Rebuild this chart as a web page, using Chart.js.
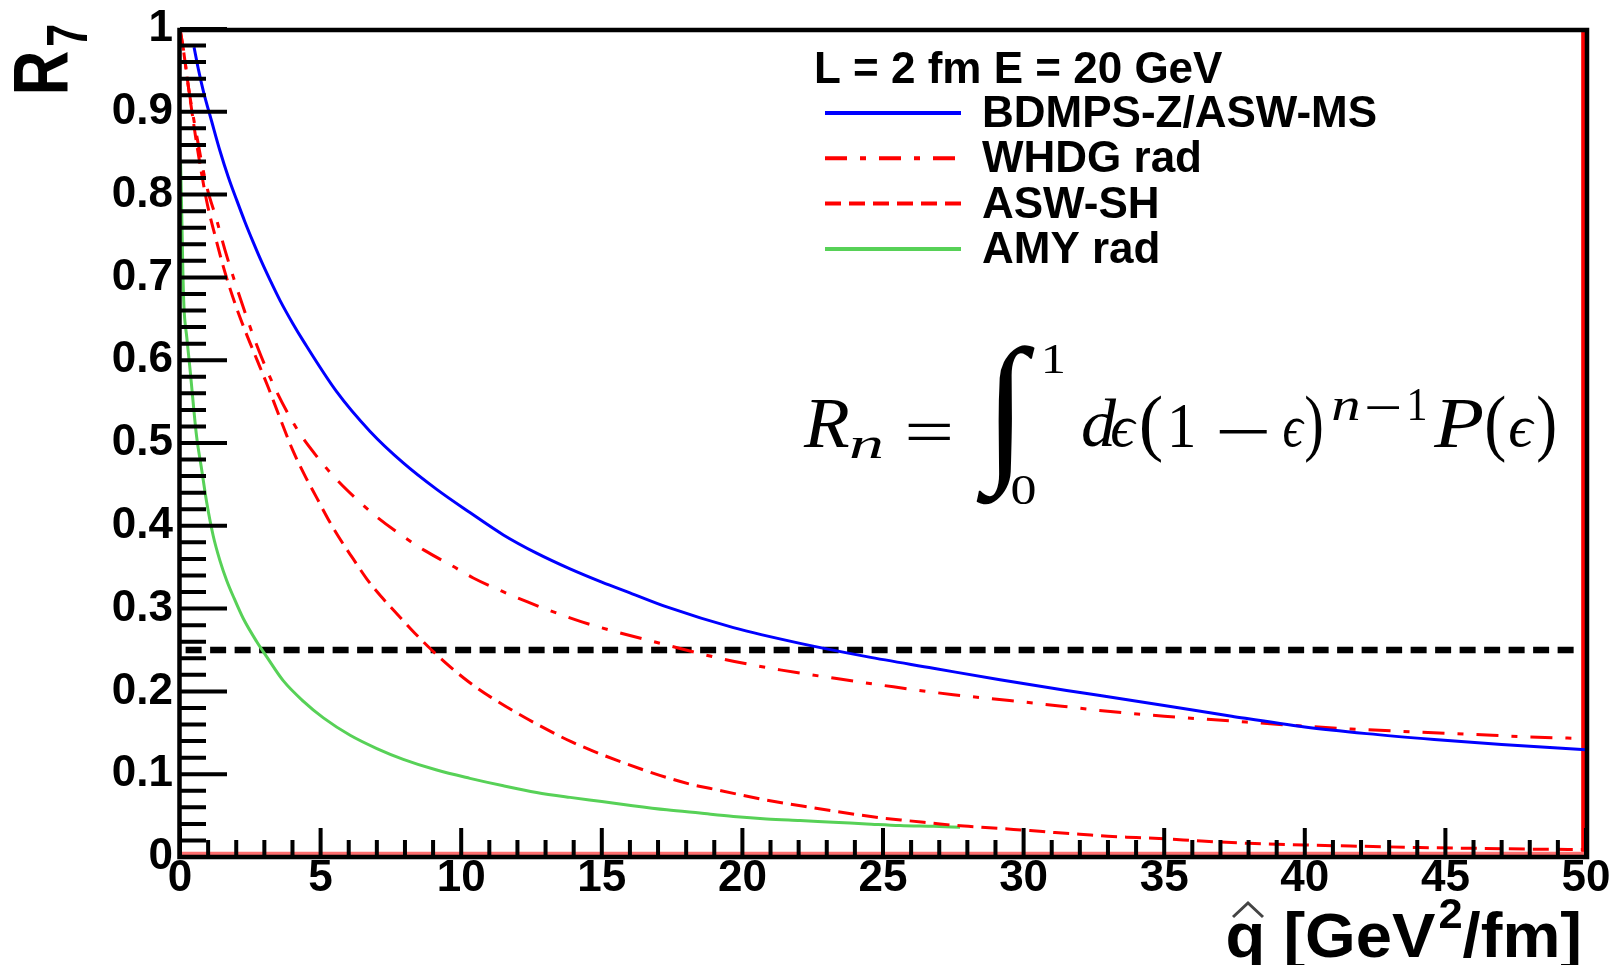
<!DOCTYPE html>
<html>
<head>
<meta charset="utf-8">
<script src="https://cdn.jsdelivr.net/npm/chart.js@4.4.1/dist/chart.umd.min.js"></script>
<style>
  html, body { margin: 0; padding: 0; background: #fff; }
  #wrap { width: 1619px; height: 965px; }
</style>
</head>
<body>
<div id="wrap"><canvas id="rChart" width="1619" height="965"></canvas></div>
<script>
// R_7 vs qhat, L = 2 fm, E = 20 GeV
const bdmpsQ = [0.5, 0.65, 0.83, 1.13, 1.42, 1.72, 2.02, 2.31, 2.61, 2.9, 3.2, 3.56, 4.0, 4.39, 5.57, 6.76, 7.94, 9.13, 10.31, 11.5, 12.68, 13.87, 15.0, 16.0, 17.31, 19.68, 22.05, 24.42, 26.79, 29.16, 31.53, 32.72, 35, 37.4, 40, 42.2, 44.6, 47, 50];
const bdmpsR = [0.978, 0.952, 0.925, 0.888, 0.853, 0.821, 0.793, 0.767, 0.742, 0.719, 0.697, 0.672, 0.645, 0.623, 0.562, 0.514, 0.476, 0.444, 0.416, 0.389, 0.367, 0.348, 0.332, 0.319, 0.302, 0.277, 0.258, 0.242, 0.228, 0.214, 0.201, 0.195, 0.183, 0.170, 0.157, 0.149, 0.142, 0.136, 0.1295];

const whdgQ = [0, 0.12, 0.3, 0.6, 0.95, 1.3, 1.6, 1.9, 2.37, 2.8, 3.3, 3.8, 4.27, 4.86, 5.51, 6.22, 6.99, 7.82, 8.71, 9.66, 10.43, 11.45, 12.36, 13.28, 14.29, 15.29, 17.31, 19.32, 21.34, 23.35, 25.37, 27.5, 29.5, 31.65, 32.7, 35, 37.5, 40, 42, 44, 46, 48, 50];
const whdgR = [1.0, 0.976, 0.93, 0.87, 0.81, 0.77, 0.733, 0.70, 0.652, 0.612, 0.572, 0.538, 0.511, 0.484, 0.458, 0.434, 0.411, 0.39, 0.37, 0.352, 0.337, 0.321, 0.308, 0.296, 0.284, 0.274, 0.256, 0.239, 0.226, 0.2155, 0.2055, 0.196, 0.189, 0.181, 0.177, 0.170, 0.164, 0.158, 0.154, 0.151, 0.148, 0.145, 0.143];

const aswQ = [0, 0.12, 0.3, 0.59, 0.95, 1.25, 1.6, 1.96, 2.3, 2.67, 2.84, 3.14, 3.5, 4.0, 4.45, 4.86, 5.27, 5.69, 6.16, 6.64, 7.17, 7.76, 8.36, 8.95, 9.6, 10.25, 10.96, 11.68, 12.39, 13.16, 13.93, 14.76, 15.59, 16.5, 17.31, 18.14, 18.97, 19.8, 20.74, 21.57, 22.4, 23.23, 24.12, 25.0, 25.84, 26.73, 27.62, 28.45, 29.34, 30.23, 31.12, 32.0, 33, 34, 35, 36, 37, 38, 40, 42, 44, 46, 48, 50];
const aswR = [1.0, 0.975, 0.93, 0.862, 0.792, 0.75, 0.706, 0.668, 0.637, 0.606, 0.592, 0.567, 0.535, 0.492, 0.46, 0.434, 0.408, 0.384, 0.36, 0.336, 0.314, 0.292, 0.27, 0.25, 0.23, 0.212, 0.195, 0.18, 0.166, 0.152, 0.139, 0.127, 0.116, 0.105, 0.096, 0.088, 0.082, 0.076, 0.0695, 0.0645, 0.060, 0.0555, 0.051, 0.047, 0.044, 0.041, 0.038, 0.036, 0.034, 0.032, 0.0295, 0.0275, 0.025, 0.0235, 0.022, 0.020, 0.018, 0.0165, 0.0145, 0.013, 0.0115, 0.0105, 0.0095, 0.009];

const amyQ = [0.02, 0.06, 0.1, 0.14, 0.24, 0.36, 0.47, 0.59, 0.77, 0.95, 1.18, 1.42, 1.66, 1.93, 2.25, 2.73, 3.08, 3.67, 4.39, 5.1, 6.05, 7.0, 7.94, 9.13, 10.31, 11.5, 12.68, 13.87, 15.0, 16.1, 17.31, 18.49, 19.68, 20.86, 22.05, 23.23, 24.42, 25.6, 26.79, 27.74];
const amyR = [0.84, 0.78, 0.71, 0.665, 0.628, 0.588, 0.548, 0.508, 0.468, 0.428, 0.388, 0.358, 0.334, 0.312, 0.288, 0.26, 0.242, 0.213, 0.188, 0.168, 0.147, 0.131, 0.118, 0.105, 0.095, 0.086, 0.078, 0.072, 0.067, 0.062, 0.057, 0.053, 0.049, 0.046, 0.044, 0.042, 0.040, 0.038, 0.037, 0.036];

// horizontal reference at R = 0.25
const refQ = [0.2, 49.7];
const refR = [0.25, 0.25];

// red lines that ROOT left along the bottom and right edge of the frame
const floorQ = [0, 50];
const floorR = [0.004, 0.004];
const edgeQ = [49.9, 49.9];
const edgeR = [0, 1];

const xTickLabels = ['0', '5', '10', '15', '20', '25', '30', '35', '40', '45', '50'];
const yTickLabels = ['0', '0.1', '0.2', '0.3', '0.4', '0.5', '0.6', '0.7', '0.8', '0.9', '1'];

const legendHeader = 'L = 2 fm E = 20 GeV';

function pts(qs, rs) {
    return qs.map((q, i) => ({ x: q, y: rs[i] }));
}

const SANS = "'Liberation Sans', Arial, sans-serif";
const SERIF = "'Liberation Serif', 'DejaVu Serif', serif";

// stretch a string so that its ink fills the box (x0,y0)-(x1,y1)
function drawFit(ctx, text, font, x0, y0, x1, y1) {
    ctx.save();
    ctx.font = font;
    ctx.textAlign = 'left';
    ctx.textBaseline = 'alphabetic';
    const m = ctx.measureText(text);
    const w = m.actualBoundingBoxLeft + m.actualBoundingBoxRight;
    const h = m.actualBoundingBoxAscent + m.actualBoundingBoxDescent;
    ctx.translate(x0, y0);
    ctx.scale((x1 - x0) / w, (y1 - y0) / h);
    ctx.fillText(text, m.actualBoundingBoxLeft, m.actualBoundingBoxAscent);
    ctx.restore();
}

const rootDecor = {
    id: 'rootDecor',
    afterDraw(chart) {
        const ctx = chart.ctx;
        const a = chart.chartArea;
        const xs = chart.scales.x;
        const ys = chart.scales.y;

        ctx.save();
        ctx.fillStyle = '#000';
        ctx.strokeStyle = '#000';

        // inward ticks
        ctx.lineWidth = 4;
        ctx.beginPath();
        for (let i = 0; i <= 50; i++) {
            const px = xs.getPixelForValue(i);
            const len = i % 5 === 0 ? 29 : 17;
            ctx.moveTo(px, a.bottom);
            ctx.lineTo(px, a.bottom - len);
        }
        for (let i = 0; i <= 50; i++) {
            const py = ys.getPixelForValue(i / 50);
            const len = i % 5 === 0 ? 47 : 26;
            ctx.moveTo(a.left, py);
            ctx.lineTo(a.left + len, py);
        }
        ctx.stroke();

        // frame
        ctx.lineWidth = 4.5;
        ctx.strokeRect(a.left - 0.5, a.top + 1, a.right - a.left + 1.5, a.bottom - a.top - 1);

        // legend
        ctx.font = 'bold 44px ' + SANS;
        ctx.textAlign = 'left';
        ctx.textBaseline = 'alphabetic';
        ctx.fillText(legendHeader, 814, 83);
        const rows = chart.data.datasets.filter(d => d.inLegend);
        rows.forEach((d, i) => {
            const base = 127 + i * 45.3;
            const ly = base - 14;
            ctx.save();
            ctx.strokeStyle = d.borderColor;
            ctx.lineWidth = 4;
            ctx.setLineDash(d.borderDash || []);
            ctx.beginPath();
            ctx.moveTo(825, ly);
            ctx.lineTo(961, ly);
            ctx.stroke();
            ctx.restore();
            ctx.fillText(d.label, 982, base);
        });

        // y title R_7 (rotated)
        ctx.save();
        ctx.rotate(-Math.PI / 2);
        drawFit(ctx, 'R', 'bold 74px ' + SANS, -92, 13, -52, 67);
        drawFit(ctx, '7', 'bold 49px ' + SANS, -45, 48, -25, 87);
        ctx.restore();

        // x title  q^ [GeV^2/fm], squeezed to span 1228..1580
        const big = 'bold 63px ' + SANS;
        const sup = 'bold 42px ' + SANS;
        ctx.font = big;
        const w1 = ctx.measureText('q [GeV').width;
        const w3 = ctx.measureText('/fm]').width;
        ctx.font = sup;
        const w2 = ctx.measureText('2').width + 3;
        const sx = (1582 - 1225.5) / (w1 + w2 + w3);
        ctx.save();
        ctx.translate(1225.5, 0);
        ctx.scale(sx, 1);
        ctx.font = big;
        ctx.fillText('q [GeV', 0, 957);
        ctx.font = sup;
        ctx.fillText('2', w1 + 3, 928);
        ctx.font = big;
        ctx.fillText('/fm]', w1 + w2, 957);
        ctx.restore();
        ctx.lineWidth = 3;
        ctx.strokeStyle = '#444';
        ctx.beginPath();
        ctx.moveTo(1233, 917);
        ctx.lineTo(1248, 903);
        ctx.lineTo(1263, 917);
        ctx.stroke();

        // formula  R_n = int_0^1 de (1-e)^{n-1} P(e)
        const it = 'italic 70px ' + SERIF;
        const up = '70px ' + SERIF;
        drawFit(ctx, 'R', it, 803, 400, 849, 447);
        drawFit(ctx, 'n', it, 851, 437, 882, 458);
        drawFit(ctx, '=', up, 908, 423, 951, 440);
        drawFit(ctx, '\u222B', up, 976, 345, 1035, 505);
        drawFit(ctx, '1', up, 1045, 345, 1063, 373);
        drawFit(ctx, '0', up, 1012, 476, 1035, 505);
        drawFit(ctx, 'd', it, 1083, 398, 1117, 447);
        drawFit(ctx, '\u03F5', it, 1112, 418, 1137, 447);
        drawFit(ctx, '(', up, 1142, 395, 1162, 463);
        drawFit(ctx, '1', up, 1172, 405, 1193, 447);
        drawFit(ctx, '\u2212', up, 1219, 430, 1268, 434);
        drawFit(ctx, '\u03F5', it, 1284, 418, 1305, 447);
        drawFit(ctx, ')', up, 1306, 395, 1322, 463);
        drawFit(ctx, 'n', it, 1333, 398, 1359, 420);
        drawFit(ctx, '\u2212', up, 1367, 406, 1400, 409);
        drawFit(ctx, '1', up, 1410, 390, 1425, 420);
        drawFit(ctx, 'P', it, 1433, 400, 1482, 447);
        drawFit(ctx, '(', up, 1487, 395, 1505, 463);
        drawFit(ctx, '\u03F5', it, 1510, 418, 1535, 447);
        drawFit(ctx, ')', up, 1538, 395, 1555, 463);

        ctx.restore();
    }
};

const curve = {
    showLine: true,
    pointRadius: 0,
    borderWidth: 3,
    fill: false,
    cubicInterpolationMode: 'monotone'
};

new Chart(document.getElementById('rChart').getContext('2d'), {
    type: 'scatter',
    data: {
        datasets: [
            Object.assign({}, curve, {
                label: 'BDMPS-Z/ASW-MS',
                inLegend: true,
                data: pts(bdmpsQ, bdmpsR),
                borderColor: '#0000ff'
            }),
            Object.assign({}, curve, {
                label: 'WHDG rad',
                inLegend: true,
                data: pts(whdgQ, whdgR),
                borderColor: '#ff0000',
                borderDash: [22, 13, 6, 13]
            }),
            Object.assign({}, curve, {
                label: 'ASW-SH',
                inLegend: true,
                data: pts(aswQ, aswR),
                borderColor: '#ff0000',
                borderDash: [16, 8]
            }),
            Object.assign({}, curve, {
                label: 'AMY rad',
                inLegend: true,
                data: pts(amyQ, amyR),
                borderColor: '#57d157'
            }),
            Object.assign({}, curve, {
                label: 'R = 0.25',
                data: pts(refQ, refR),
                borderColor: '#000',
                borderWidth: 6.5,
                borderDash: [16, 8.5],
                cubicInterpolationMode: 'default',
                tension: 0
            }),
            Object.assign({}, curve, {
                label: 'floor',
                data: pts(floorQ, floorR),
                borderColor: '#ff6e6e',
                borderWidth: 4,
                tension: 0,
                cubicInterpolationMode: 'default'
            }),
            Object.assign({}, curve, {
                label: 'edge',
                data: pts(edgeQ, edgeR),
                borderColor: '#ff0000',
                borderWidth: 4,
                tension: 0,
                cubicInterpolationMode: 'default'
            })
        ]
    },
    options: {
        responsive: false,
        animation: false,
        events: [],
        layout: {
            padding: { top: 23, right: 33, left: 0, bottom: 0 }
        },
        plugins: {
            legend: { display: false },
            tooltip: { enabled: false }
        },
        scales: {
            x: {
                type: 'linear',
                min: 0,
                max: 50,
                afterFit: function(scale) { scale.height = 108; },
                grid: { display: false, drawTicks: false },
                border: { display: false },
                ticks: {
                    stepSize: 5,
                    autoSkip: false,
                    maxRotation: 0,
                    padding: 0,
                    color: '#000',
                    font: { family: SANS, size: 44, weight: 'bold', lineHeight: 1 },
                    callback: function(value, index) { return xTickLabels[index]; }
                }
            },
            y: {
                type: 'linear',
                min: 0,
                max: 1,
                afterFit: function(scale) { scale.width = 180; },
                grid: { display: false, drawTicks: false },
                border: { display: false },
                ticks: {
                    stepSize: 0.1,
                    autoSkip: false,
                    padding: 7,
                    color: '#000',
                    font: { family: SANS, size: 44, weight: 'bold', lineHeight: 1 },
                    callback: function(value, index) { return yTickLabels[index]; }
                }
            }
        }
    },
    plugins: [rootDecor]
});
</script>
</body>
</html>
